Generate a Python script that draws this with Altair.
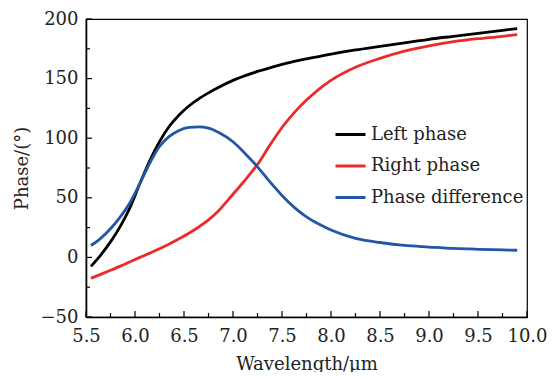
import altair as alt
import pandas as pd

# ---- data ----
wavelength = [5.55, 5.65, 5.75, 5.85, 5.95, 6.05, 6.15, 6.25, 6.35, 6.45, 6.55, 6.65,
              6.75, 6.85, 7.0, 7.125, 7.25, 7.375, 7.5, 7.625, 7.75, 7.875, 8.0, 8.25,
              8.5, 8.75, 9.0, 9.25, 9.5, 9.75, 9.9]
left_phase = [-7.5, 2, 13, 26, 42, 62, 81, 97, 110, 119.5, 127, 133,
              138, 142.5, 148.5, 152.5, 156, 159, 162, 164.5, 166.5, 168.5, 170.5, 174,
              177, 180, 183, 185.5, 188, 190.5, 192]
right_phase = [-17.5, -14.2, -10.8, -7.3, -3.6, 0, 3.6, 7.3, 11.3, 15.6, 20.3, 25.5,
               31.5, 39, 53, 65, 78, 94, 109, 121.5, 132, 141, 148.5, 159.5,
               167, 173, 177.5, 181, 183.5, 185.5, 187]
phase_diff = [10, 16, 24, 34, 46, 62, 79, 93, 101.5, 106.5, 109, 109.5,
              108.5, 105, 97, 87, 76, 63.5, 52, 42, 34, 28, 23, 16,
              12.5, 10, 8.7, 7.5, 6.8, 6.3, 6]

series_names = ["Left phase", "Right phase", "Phase difference"]
series_colors = ["#000000", "#eb2a2a", "#2456a6"]

x_major = [5.5, 6.0, 6.5, 7.0, 7.5, 8.0, 8.5, 9.0, 9.5, 10.0]
x_minor = [5.75, 6.25, 6.75, 7.25, 7.75, 8.25, 8.75, 9.25, 9.75]
y_major = [-50, 0, 50, 100, 150, 200]
y_minor = [-25, 25, 75, 125, 175]

W, H = 441, 298
FONT = "DejaVu Serif"
FS = 18

rows = []
for name, vals in zip(series_names, [left_phase, right_phase, phase_diff]):
    for w, v in zip(wavelength, vals):
        rows.append({"wavelength": w, "phase": v, "series": name})
df = pd.DataFrame(rows)

x_scale = alt.Scale(domain=[5.5, 10.0], nice=False, zero=False)
y_scale = alt.Scale(domain=[-50, 200], nice=False, zero=False)

lines = alt.Chart(df).mark_line(strokeWidth=2.8, interpolate="monotone").encode(
    x=alt.X("wavelength:Q", scale=x_scale,
            axis=alt.Axis(values=x_major, format=".1f", title="Wavelength/μm",
                          ticks=False, grid=False, labelPadding=10, titlePadding=10,
                          labelFlush=False, labelOverlap=False,
                          domainColor="black", domainWidth=1.6)),
    y=alt.Y("phase:Q", scale=y_scale,
            axis=alt.Axis(values=y_major, format="d", title="Phase/(°)",
                          ticks=False, grid=False, labelPadding=8, titlePadding=9,
                          labelFlush=False, labelOverlap=False,
                          domainColor="black", domainWidth=1.6)),
    color=alt.Color("series:N",
                    scale=alt.Scale(domain=series_names, range=series_colors),
                    sort=series_names,
                    legend=alt.Legend(title=None, orient="none", legendX=248, legendY=99,
                                      symbolType="stroke", symbolStrokeWidth=3,
                                      symbolSize=900, labelFont=FONT, labelFontSize=FS,
                                      labelColor="#222", rowPadding=5.5, padding=0,
                                      labelOffset=4)),
)

xmaj = alt.Chart(pd.DataFrame({"v": x_major})).mark_rule(color="black", strokeWidth=1.2).encode(
    x=alt.X("v:Q", scale=x_scale), y=alt.value(H), y2=alt.value(H - 6))
xmin = alt.Chart(pd.DataFrame({"v": x_minor})).mark_rule(color="black", strokeWidth=1.2).encode(
    x=alt.X("v:Q", scale=x_scale), y=alt.value(H), y2=alt.value(H - 4))
ymaj = alt.Chart(pd.DataFrame({"v": y_major})).mark_rule(color="black", strokeWidth=1.2).encode(
    y=alt.Y("v:Q", scale=y_scale), x=alt.value(0), x2=alt.value(6))
ymin = alt.Chart(pd.DataFrame({"v": y_minor})).mark_rule(color="black", strokeWidth=1.2).encode(
    y=alt.Y("v:Q", scale=y_scale), x=alt.value(0), x2=alt.value(4))

chart = alt.layer(lines, xmaj, xmin, ymaj, ymin).properties(
    width=W, height=H,
    autosize=alt.AutoSizeParams(type="none"),
    padding={"left": 78, "top": 11, "right": 25, "bottom": 55},
    background="white",
).configure_view(stroke="black", strokeWidth=1.2).configure_axis(
    labelFont=FONT, labelFontSize=FS, labelColor="#222",
    titleFont=FONT, titleFontSize=FS, titleFontWeight="normal", titleColor="#222",
)

chart.save("out.html", embed_options={"renderer": "svg", "actions": False})
